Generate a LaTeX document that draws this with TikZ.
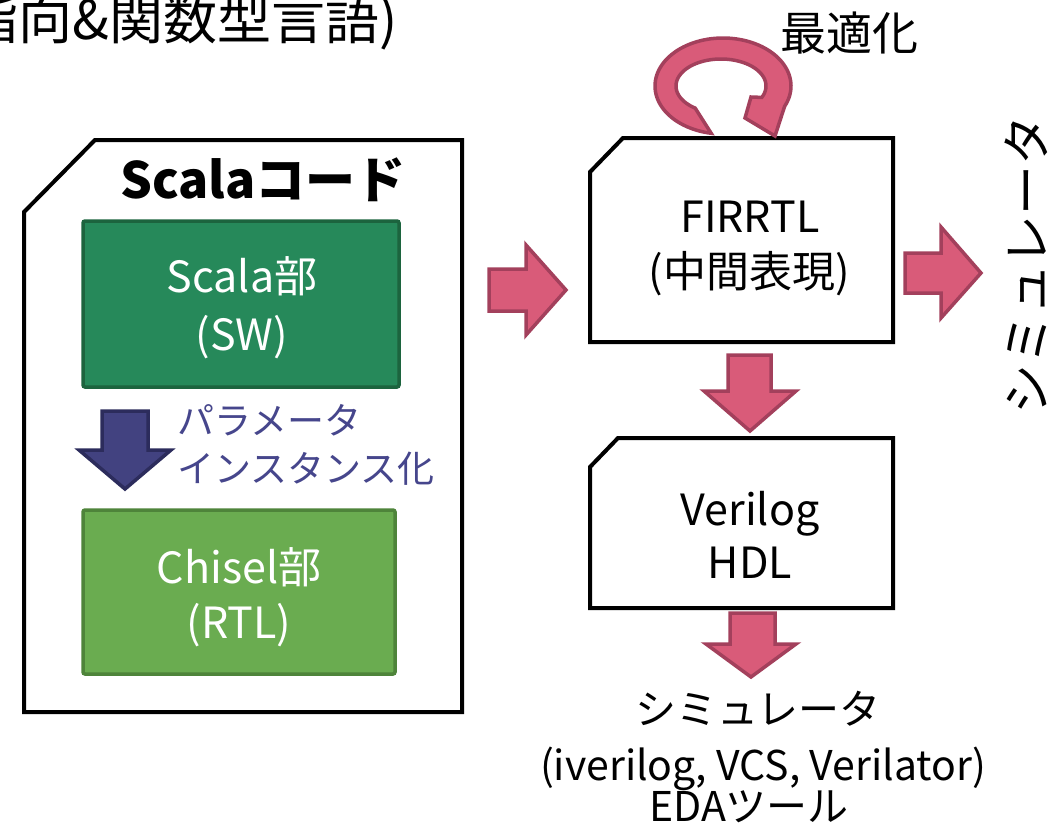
\documentclass[tikz,border=0pt]{standalone}
\usepackage{fontspec}
\setmainfont{Noto Sans CJK JP}
\newcommand\setfs[1]{\fontsize{#1}{#1}\selectfont}
\definecolor{pinkfill}{RGB}{217,91,121}
\definecolor{pinkline}{RGB}{163,64,92}
\definecolor{dkgreen}{RGB}{38,137,90}
\definecolor{dkgreenline}{RGB}{28,100,62}
\definecolor{ltgreen}{RGB}{106,172,80}
\definecolor{ltgreenline}{RGB}{78,132,58}
\definecolor{indigo}{RGB}{66,66,128}
\definecolor{indigoline}{RGB}{44,44,92}
\definecolor{labelblue}{RGB}{70,70,140}
\tikzset{
  card/.style={draw=black, line width=4pt, line join=miter, fill=white},
  partbox/.style={draw, line width=3.5pt, rounded corners=2pt, inner sep=0pt},
  pinkarrow/.style={fill=pinkfill, draw=pinkline, line width=3.5pt, line join=miter},
  bluearrow/.style={fill=indigo, draw=indigoline, line width=3.5pt, line join=miter},
  boxtext/.style={anchor=base, inner sep=0pt, font=\setfs{43}},
  plain/.style={anchor=base, inner sep=0pt, font=\setfs{41}},
}
\begin{document}
\begin{tikzpicture}[x=1pt, y=-1pt]
\useasboundingbox (0,0) rectangle (1050,825);

% heading fragment along the top edge
\node[anchor=base east, inner sep=0pt, font=\setfs{54}] (heading) at (398,39) {指向\&関数型言語)};

% Scala source card
\draw[card] (95,140) -- (462,140) -- (462,712) -- (24,712) -- (24,212) -- cycle;
\node[anchor=base, inner sep=0pt, font=\bfseries\setfs{50}] (scalacode) at (263,198) {Scalaコード};

\node[partbox, fill=dkgreen, draw=dkgreenline, minimum width=316pt, minimum height=166pt] (sw) at (241,304) {};
\node[boxtext, text=white] (swa) at (242,292) {Scala部};
\node[boxtext, text=white] (swb) at (242,350) {(SW)};

\node[partbox, fill=ltgreen, draw=ltgreenline, minimum width=312pt, minimum height=164pt] (rtl) at (239,592) {};
\node[boxtext, text=white] (rtla) at (239,583) {Chisel部};
\node[boxtext, text=white] (rtlb) at (239,638) {(RTL)};

% elaboration step
\draw[bluearrow] (102,411) -- (148,411) -- (148,450) -- (171,450) -- (125,489) -- (79,450) -- (102,450) -- cycle;
\node[anchor=base west, inner sep=0pt, font=\setfs{37}, text=labelblue] (param) at (177,434) {パラメータ};
\node[anchor=base west, inner sep=0pt, font=\setfs{37}, text=labelblue] (inst) at (177,482) {インスタンス化};

% Scala card to FIRRTL
\draw[pinkarrow] (489,269) -- (526,269) -- (526,245) -- (566,290) -- (526,335) -- (526,311) -- (489,311) -- cycle;

% FIRRTL card
\draw[card] (623,138) -- (893,138) -- (893,342) -- (590,342) -- (590,172) -- cycle;
\node[boxtext] (fir) at (750,232) {FIRRTL};
\node[boxtext] (firb) at (749,287) {(中間表現)};

% optimisation loop above FIRRTL
\filldraw[pinkarrow]
  plot[domain=100:385, samples=90] ({723+68*cos(\x)}, {86+48*sin(\x)})
  -- (775,136) -- (745,118) -- (751,97)
  -- plot[domain=385:125, samples=90] ({721+45*cos(\x)}, {86+27*sin(\x)})
  -- cycle;
\node[anchor=base, inner sep=0pt, font=\setfs{46}] (opt) at (849,50) {最適化};

% FIRRTL to simulator (right)
\draw[pinkarrow] (905,253) -- (941,253) -- (941,227) -- (981,273) -- (941,318) -- (941,293) -- (905,293) -- cycle;
\node[rotate=90, inner sep=0pt, font=\setfs{50}] (simv) at (1026,265) {シミュレータ};

% FIRRTL to Verilog
\draw[pinkarrow] (728,355) -- (771,355) -- (771,391) -- (796,391) -- (750,431) -- (704,391) -- (728,391) -- cycle;

% Verilog card
\draw[card] (618,438) -- (893,438) -- (893,608) -- (590,608) -- (590,467) -- cycle;
\node[boxtext] (vl) at (750,525) {Verilog};
\node[boxtext] (vlb) at (750,578) {HDL};

% Verilog to simulators
\draw[pinkarrow] (730,613) -- (775,613) -- (775,644) -- (796,644) -- (751,677) -- (706,644) -- (730,644) -- cycle;

\node[plain] (sim) at (758,724) {シミュレータ};
\node[plain] (tools) at (763,780) {(iverilog, VCS, Verilator)};
\node[plain] (eda) at (749,821) {EDAツール};
\end{tikzpicture}
\end{document}
